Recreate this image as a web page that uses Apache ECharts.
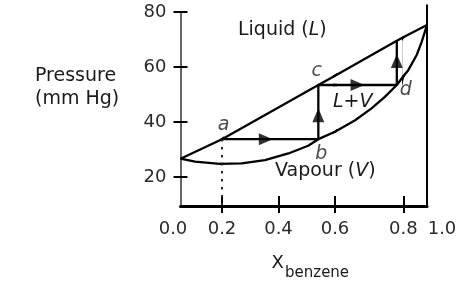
<!DOCTYPE html>
<html><head><meta charset="utf-8">
<script src="https://cdn.jsdelivr.net/npm/echarts@6/dist/echarts.min.js"></script>
<style>html,body{margin:0;padding:0;background:#fff}#c{width:474px;height:284px}</style>
</head><body><div id="c"></div>
<script>
// ---------- data ----------
const xTickValues = [0.2, 0.4, 0.6, 0.8];
const xLabelValues = [0, 0.2, 0.4, 0.6, 0.8, 1.0];
const xLabelTexts = ['0.0', '0.2', '0.4', '0.6', '0.8', '1.0'];
const yTickValues = [20, 40, 60, 80];
const yLabelTexts = ['20', '40', '60', '80'];

// liquid (bubble-point) line, pressure in mm Hg vs x(benzene)
const liquidX = [0, 0.2, 0.541, 0.6, 0.781, 0.8, 1.0];
const liquidP = [26.6, 33.7, 53.4, 56.8, 69.5, 70.8, 75.2];
// vapour (dew-point) curve
const vapourX = [0, 0.07, 0.19, 0.27, 0.352, 0.435, 0.505, 0.541, 0.6, 0.659, 0.707, 0.746, 0.781, 0.8, 0.842, 0.913, 0.955, 1.0];
const vapourP = [26.6, 25.5, 24.7, 24.9, 26.1, 28.5, 31.3, 33.7, 36.4, 40.6, 44.9, 49.1, 53.4, 56.6, 58.8, 64.3, 69.1, 75.2];
// tie-line path a -> b -> c -> d -> liquid
const tieX = [0.2, 0.541, 0.541, 0.781, 0.781];
const tieP = [33.7, 33.7, 53.4, 53.4, 69.5];
// dotted drop line from a
const dropX = [0.2, 0.2];
const dropP = [33.7, 9.4];
// arrow heads
const arrowX = [0.355, 0.541, 0.666, 0.781];
const arrowP = [33.7, 42.4, 53.4, 62.1];
const arrowDir = ['right', 'up', 'right', 'up'];
// labelled points
const pointNames = ['a', 'b', 'c', 'd'];
const pointX = [0.2, 0.541, 0.541, 0.781];
const pointP = [33.7, 33.7, 53.4, 53.4];

// ---------- layout / styles ----------
const FONT = 'DejaVu Sans';
const INK = '#000';
const TXT = '#1a1a1a';
const TICKTXT = '#2a2a2a';
const breaks = [0, 0.2, 0.6, 0.8, 1.0];          // piecewise x axis (as drawn)
const breakPx = [180.5, 222, 335, 403.3, 427];
const yMin = 9.4, yMaxLeft = 80, yMax = 82.4;
const bottomPx = 206, pxPerUnit = 2.75;
const labelOffsets = { a: [1.5, -14], b: [3, 15], c: [-1.5, -14], d: [9, 5] };

function gridOf(v) {
  if (v < breaks[1]) return 0;
  for (let i = 1; i < breaks.length - 1; i++) {
    if (v >= breaks[i] && v < breaks[i + 1]) return i;
  }
  return breaks.length - 2;
}
const zip = (xs, ys) => xs.map((x, i) => [x, ys[i]]);
const NG = breaks.length - 1;

const grids = [], xAxes = [], yAxes = [], series = [];
for (let i = 0; i < NG; i++) {
  const top = i === 0 ? yMaxLeft : yMax;
  const h = (top - yMin) * pxPerUnit;
  grids.push({ left: breakPx[i], width: breakPx[i + 1] - breakPx[i], top: bottomPx - h, height: h,
    containLabel: false, outerBoundsMode: 'none' });
  const ticks = xTickValues.filter(v => gridOf(v) === i);
  const labs = xLabelValues.filter(v => gridOf(v) === i);
  xAxes.push({
    type: 'value', gridIndex: i, position: 'bottom', min: breaks[i], max: breaks[i + 1],
    axisLine: { show: true, onZero: false, lineStyle: { color: INK, width: 3 } },
    axisTick: { show: ticks.length > 0, inside: true, length: 10, customValues: ticks, lineStyle: { color: INK, width: 2 } },
    axisLabel: {
      show: labs.length > 0, customValues: labs, margin: 14, showMinLabel: true, showMaxLabel: true,
      color: TICKTXT, fontFamily: FONT, fontSize: 18,
      formatter: v => {
        const t = xLabelTexts[xLabelValues.indexOf(v)] || String(v);
        if (v === 0) return '{l|' + t + '}';
        if (v === 1) return '{r|' + t + '}';
        return t;
      },
      rich: {
        l: { padding: [0, 15, 0, 0], fontFamily: FONT, fontSize: 18, color: TICKTXT },
        r: { padding: [0, 0, 0, 30], fontFamily: FONT, fontSize: 18, color: TICKTXT }
      }
    },
    splitLine: { show: false }
  });
  yAxes.push({
    type: 'value', gridIndex: i, min: yMin, max: top,
    show: i === 0 || i === NG - 1,
    position: i === NG - 1 ? 'right' : 'left',
    axisLine: { show: true, lineStyle: { color: i === 0 ? '#333' : INK, width: i === 0 ? 1.5 : 2 } },
    axisTick: { show: i === 0, length: 7, customValues: yTickValues, lineStyle: { color: INK, width: 2 } },
    axisLabel: {
      show: i === 0, customValues: yTickValues, margin: 14, color: TICKTXT, fontFamily: FONT, fontSize: 18,
      padding: [6, 0, 0, 0],
      formatter: v => yLabelTexts[yTickValues.indexOf(v)] || String(v)
    },
    splitLine: { show: false }
  });
}
// outside halves of the crossing x ticks
for (let i = 0; i < NG; i++) {
  const ticks = xTickValues.filter(v => gridOf(v) === i);
  xAxes.push({
    type: 'value', gridIndex: i, position: 'bottom', offset: 0, min: breaks[i], max: breaks[i + 1],
    axisLine: { show: false, onZero: false },
    axisTick: { show: ticks.length > 0, inside: false, length: 7, customValues: ticks, lineStyle: { color: INK, width: 2 } },
    axisLabel: { show: false }, splitLine: { show: false }
  });
}
// inside halves of the crossing y ticks
yAxes.push({
  type: 'value', gridIndex: 0, min: yMin, max: yMaxLeft, position: 'left', offset: 0,
  axisLine: { show: false },
  axisTick: { show: true, inside: true, length: 7, customValues: yTickValues, lineStyle: { color: INK, width: 2 } },
  axisLabel: { show: false }, splitLine: { show: false }
});

const lineBase = { type: 'line', symbol: 'none', silent: true, clip: true, animation: false };
for (let i = 0; i < NG; i++) {
  series.push(Object.assign({}, lineBase, { name: 'Liquid', xAxisIndex: i, yAxisIndex: i,
    data: zip(liquidX, liquidP), lineStyle: { color: INK, width: 2.3 } }));
  series.push(Object.assign({}, lineBase, { name: 'Vapour', xAxisIndex: i, yAxisIndex: i,
    data: zip(vapourX, vapourP), lineStyle: { color: INK, width: 2.3 } }));
  series.push(Object.assign({}, lineBase, { name: 'Path', xAxisIndex: i, yAxisIndex: i,
    data: zip(tieX, tieP), lineStyle: { color: INK, width: 2.3 } }));
  series.push(Object.assign({}, lineBase, { name: 'Drop', xAxisIndex: i, yAxisIndex: i,
    data: zip(dropX, dropP), lineStyle: { color: '#222', width: 2, type: [2, 6] } }));
  const arr = arrowX.map((x, k) => ({ value: [x, arrowP[k]], symbolRotate: arrowDir[k] === 'right' ? -90 : 0 }))
    .filter(d => gridOf(d.value[0]) === i);
  if (arr.length) series.push({ type: 'scatter', xAxisIndex: i, yAxisIndex: i, silent: true, animation: false,
    symbol: 'triangle', symbolSize: [12, 14], itemStyle: { color: INK }, data: arr });
  const pts = pointNames.map((n, k) => ({ name: n, value: [pointX[k], pointP[k]],
    label: { offset: labelOffsets[n] } })).filter(d => gridOf(d.value[0]) === i);
  if (pts.length) series.push({ type: 'scatter', xAxisIndex: i, yAxisIndex: i, silent: true, animation: false,
    symbolSize: 0, data: pts,
    label: { show: true, position: 'inside', formatter: p => p.name, color: TXT, fontFamily: FONT,
      fontSize: 19, fontStyle: 'italic', align: 'center', verticalAlign: 'middle' } });
}

const txt = (x, y, text, size, extra) => Object.assign({ type: 'text', x: x, y: y, silent: true,
  style: Object.assign({ text: text, fontFamily: FONT, fontSize: size, fill: TXT, verticalAlign: 'middle', align: 'left' }, extra || {}) });

const chart = echarts.init(document.getElementById('c'), null, { renderer: 'canvas' });
chart.setOption({
  animation: false,
  backgroundColor: '#fff',
  textStyle: { fontFamily: FONT },
  grid: grids, xAxis: xAxes, yAxis: yAxes, series: series,
  graphic: [
    txt(35, 76, 'Pressure', 19),
    txt(35, 99.5, '(mm Hg)', 19),
    txt(238, 30, 'Liquid ({i|L})', 19, { rich: { i: { fontStyle: 'italic', fontFamily: FONT, fontSize: 19, fill: TXT } } }),
    txt(275, 171.5, 'Vapour ({i|V})', 19, { rich: { i: { fontStyle: 'italic', fontFamily: FONT, fontSize: 19, fill: TXT } } }),
    txt(333, 102.5, 'L+V', 19, { fontStyle: 'italic' }),
    txt(271.5, 263, 'X', 18),
    txt(285, 273.5, 'benzene', 15)
  ]
});
</script>
</body></html>
